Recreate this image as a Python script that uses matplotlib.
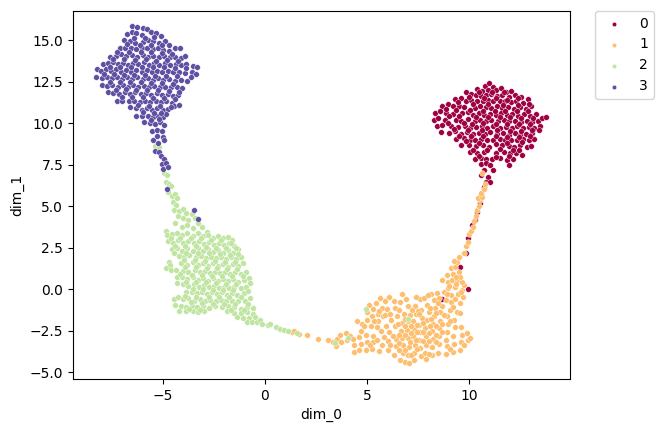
import matplotlib
matplotlib.use("Agg")
import matplotlib.pyplot as plt
import numpy as np

# points, one list per cluster (dim_0, dim_1)
cluster_0 = [
    (10.8,12.25),(11.0,12.4),(11.2,12.2),(10.4,12.05),(10.65,11.95),(10.95,12.0),(11.3,12.0),(11.55,12.1),(11.8,11.9),(12.05,11.95),
    (9.85,11.9),(10.1,11.75),(10.35,11.7),(10.6,11.65),(10.85,11.7),(11.1,11.75),(11.35,11.65),(11.6,11.7),(11.95,11.55),(12.25,11.7),(12.55,11.55),
    (9.3,11.45),(9.6,11.5),(9.85,11.35),(10.1,11.4),(10.4,11.3),(10.7,11.35),(10.95,11.4),(11.2,11.3),(11.5,11.35),(11.75,11.3),(12.05,11.25),(12.3,11.35),(12.65,11.2),(12.9,11.45),
    (8.7,11.05),(8.95,11.15),(9.2,11.0),(9.5,11.05),(9.75,10.95),(10.3,10.9),(10.55,11.0),(10.85,10.95),(11.1,10.9),(11.35,11.0),(11.6,10.9),(11.9,10.95),(12.2,10.85),(12.5,10.95),(12.8,10.85),(13.05,11.0),
    (8.35,10.6),(8.6,10.7),(8.85,10.6),(9.2,10.55),(9.65,10.6),(9.95,10.65),(10.2,10.5),(10.5,10.6),(10.75,10.5),(11.05,10.55),(11.3,10.5),(11.55,10.6),(11.85,10.5),(12.1,10.55),(12.4,10.45),(12.7,10.55),(13.0,10.45),(13.3,10.55),
    (8.3,10.2),(8.5,10.3),(8.8,10.2),(9.35,10.2),(9.6,10.15),(9.95,10.25),(10.3,10.1),(10.55,10.2),(10.85,10.15),(11.1,10.2),(11.4,10.1),(11.7,10.2),(11.95,10.1),(12.25,10.15),(12.55,10.05),(12.85,10.15),(13.1,10.05),(13.4,10.1),(13.6,10.3),(13.75,10.35),
    (8.45,9.8),(8.7,9.9),(9.1,9.85),(9.45,9.75),(9.8,9.8),(10.05,9.7),(10.35,9.75),(10.65,9.8),(10.9,9.7),(11.2,9.8),(11.5,9.7),(11.8,9.75),(12.1,9.7),(12.35,9.8),(12.65,9.7),(12.95,9.75),(13.2,9.7),(13.5,9.85),(13.45,9.6),
    (8.65,9.45),(9.0,9.4),(9.3,9.5),(9.6,9.35),(9.9,9.45),(10.2,9.35),(10.5,9.4),(10.8,9.35),(11.05,9.45),(11.35,9.35),(11.65,9.4),(11.95,9.3),(12.25,9.4),(12.5,9.3),(12.8,9.35),(13.1,9.4),
    (9.35,9.05),(9.75,9.1),(10.05,9.0),(10.3,8.95),(10.6,9.05),(10.9,9.0),(11.2,8.95),(11.5,9.05),(11.75,8.95),(12.05,9.0),(12.35,8.95),(12.65,9.05),(12.95,8.95),(13.2,9.05),
    (9.6,8.7),(10.0,8.65),(10.35,8.6),(10.7,8.65),(11.0,8.55),(11.6,8.65),(11.95,8.6),(12.2,8.55),(12.5,8.65),(12.85,8.55),(13.05,8.6),
    (10.05,8.25),(10.4,8.2),(10.75,8.25),(11.3,8.2),(11.7,8.25),(12.0,8.2),(12.3,8.2),(12.6,8.1),
    (10.3,7.85),(10.6,7.9),(10.85,7.85),(11.15,7.85),(11.5,7.9),(11.85,7.75),(12.15,7.85),
    (10.6,7.55),(10.85,7.6),(11.05,7.45),(11.95,7.45),(10.75,7.2),(11.2,7.15),(10.6,6.85),(10.95,6.75),(10.85,6.45),(11.05,6.45),(10.75,6.15),
    (10.6,5.65),(10.55,5.2),(10.4,4.65),(10.3,4.15),(10.15,3.85),(9.95,3.1),(9.85,2.2),(9.55,1.35),(9.95,0.0),(8.7,-0.6),
    # in-between points of the dense part
    (10.5,11.85),(11.15,11.9),(11.7,11.85),(10.0,11.55),(10.75,11.5),(11.3,11.5),(11.85,11.4),(12.4,11.5),(9.45,11.25),(10.2,11.15),(10.95,11.15),(11.65,11.1),(12.4,11.1),(12.95,11.15),
    (8.85,10.85),(9.35,10.8),(10.05,10.8),(10.7,10.75),(11.25,10.75),(11.75,10.7),(12.35,10.7),(12.9,10.7),(9.0,10.4),(9.5,10.4),(10.35,10.35),(10.95,10.35),(11.5,10.35),(12.0,10.35),(12.55,10.3),(13.15,10.3),
    (8.95,10.0),(9.75,10.0),(10.15,9.95),(10.7,10.0),(11.3,9.95),(11.85,9.95),(12.45,9.95),(13.0,9.95),(9.25,9.65),(9.95,9.6),(10.65,9.6),(11.35,9.6),(12.0,9.55),(12.55,9.55),(13.1,9.6),
    (9.5,9.2),(10.1,9.2),(10.7,9.2),(11.3,9.2),(11.85,9.15),(12.45,9.15),(13.0,9.2),(9.85,8.9),(10.5,8.8),(11.3,8.75),(11.85,8.8),(12.6,8.85),(10.2,8.4),(10.9,8.4),(11.5,8.45),(12.15,8.4),(12.45,8.4),(10.5,8.0),(11.3,7.95),(11.95,8.0),
]
cluster_1 = [
    (1.3,-2.6),(1.67,-2.7),(2.05,-2.77),(2.6,-3.0),(3.1,-3.1),(3.35,-3.2),(3.55,-3.0),(3.7,-2.75),(3.95,-2.65),(4.15,-2.85),(3.75,-3.2),(3.5,-3.45),(4.0,-3.1),
    (4.3,-3.0),(4.35,-3.4),(4.35,-3.8),(4.6,-3.7),(4.7,-3.3),(4.6,-2.9),(4.7,-2.55),(4.95,-2.75),(5.0,-3.2),(4.95,-3.65),(5.25,-3.6),(5.3,-3.2),(5.3,-2.8),
    (4.5,-1.9),(4.75,-2.1),(5.0,-1.85),(5.2,-2.2),(5.5,-2.3),(5.55,-1.9),(5.25,-1.65),(5.0,-1.4),(5.3,-1.2),(5.55,-1.5),(5.8,-1.65),(5.75,-1.15),(5.45,-0.85),(5.65,-0.55),(5.9,-0.75),(6.0,-1.2),(6.1,-0.5),
    (5.6,-3.75),(5.75,-3.35),(5.85,-2.9),(5.7,-2.55),(6.1,-2.6),(6.05,-3.15),(6.05,-3.7),(6.3,-3.95),(6.4,-3.45),(6.4,-3.0),(6.35,-2.25),(6.2,-1.85),(6.45,-1.6),(6.35,-1.15),(6.6,-0.8),(6.7,-0.3),(6.9,-0.6),
    (6.6,-4.3),(6.85,-4.4),(7.05,-4.45),(7.3,-4.3),(6.75,-3.85),(7.0,-3.95),(6.75,-3.4),(7.05,-3.5),(6.7,-2.95),(7.0,-2.95),(6.65,-2.5),(6.95,-2.45),(6.7,-2.05),(7.0,-1.95),(6.8,-1.5),(7.1,-1.55),(7.0,-1.05),
    (7.3,-3.85),(7.35,-3.35),(7.25,-2.85),(7.3,-2.4),(7.25,-1.95),(7.4,-1.5),(7.35,-1.0),(7.6,-0.6),(7.4,-0.5),(7.8,-0.55),
    (7.65,-4.05),(7.6,-3.55),(7.55,-3.05),(7.6,-2.6),(7.55,-2.15),(7.7,-1.75),(7.65,-1.25),(7.95,-0.95),(8.05,-1.4),(7.95,-1.85),(7.85,-2.35),(7.9,-2.85),(7.9,-3.35),(7.85,-3.85),(7.9,-4.2),
    (8.2,-4.0),(8.2,-3.5),(8.25,-3.0),(8.2,-2.55),(8.25,-2.1),(8.3,-1.65),(8.35,-1.15),(8.3,-0.65),(8.15,-0.3),(8.45,-0.25),(8.55,-0.55),
    (8.5,-3.85),(8.55,-3.3),(8.55,-2.8),(8.55,-2.35),(8.6,-1.9),(8.6,-1.4),(8.7,-1.0),(8.85,-0.65),(8.75,-0.2),(8.95,0.05),
    (8.85,-3.9),(8.9,-3.45),(8.85,-3.05),(8.9,-2.6),(8.95,-2.1),(8.9,-1.65),(9.05,-1.25),(9.1,-0.8),(9.3,-0.6),(9.1,-0.35),(9.45,-0.3),(9.3,0.1),
    (9.2,-3.8),(9.25,-3.3),(9.2,-2.85),(9.3,-2.3),(9.25,-1.85),(9.4,-1.4),(9.55,-1.45),(9.55,-0.85),(9.7,-0.5),(9.65,-0.05),(9.75,0.25),
    (9.55,-3.7),(9.6,-3.2),(9.65,-2.75),(9.75,-3.35),(9.95,-3.1),(10.05,-2.95),(9.9,-2.65),(9.6,-2.3),
    (8.7,0.55),(8.95,0.45),(9.15,0.55),(9.4,0.5),(9.65,0.45),(8.9,0.85),(9.2,0.9),(9.5,1.0),(9.55,0.75),(9.1,1.25),(9.3,1.35),(9.4,1.6),(9.5,1.95),(9.25,1.7),(9.75,2.2),
    (9.85,2.6),(9.95,2.85),(10.0,3.3),(10.1,3.5),(10.2,3.75),(10.25,4.1),(10.35,4.4),(10.4,4.75),(10.5,5.0),(10.55,5.35),(10.45,5.5),(10.65,5.55),(10.6,5.8),(10.75,6.0),(10.8,6.35),(10.65,7.0),
    (5.1,-0.95),(7.15,-2.2),(7.5,-1.3),(8.0,-0.35),(6.55,-3.7),(5.5,-3.1),(1.4,-2.55),
    # in-between points of the dense part
    (5.95,-2.25),(5.9,-1.55),(6.15,-1.5),(6.55,-1.25),(6.25,-2.85),(6.55,-2.75),(6.5,-2.1),(6.85,-2.75),(6.85,-2.25),(6.85,-1.8),(7.15,-2.65),(7.1,-3.2),(6.85,-3.65),(6.55,-3.25),
    (7.4,-3.1),(7.45,-2.6),(7.45,-2.15),(7.55,-1.5),(7.75,-2.05),(7.75,-2.6),(7.75,-3.15),(7.45,-3.6),(8.05,-3.15),(8.05,-2.65),(8.1,-2.2),(8.15,-1.8),(8.1,-1.15),(8.4,-1.45),
    (8.4,-2.75),(8.4,-2.25),(8.4,-3.2),(8.7,-2.6),(8.7,-2.1),(8.75,-1.55),(7.2,-1.25),(6.3,-0.75),(6.15,-3.35),(7.15,-4.0),(8.05,-3.9),(9.05,-3.6),(9.05,-1.9),(9.2,-1.1),(8.5,-0.85),(8.9,-0.3),
    (4.85,-2.25),(5.35,-1.95),(5.15,-3.4),(5.6,-1.3),(9.35,0.3),(9.35,0.75),(9.0,0.2),(9.6,-0.2),
]
cluster_2 = [
    (-5.4,8.6),(-5.2,8.55),(-4.95,7.0),(-4.8,6.9),(-4.85,6.45),(-4.7,6.35),(-4.6,6.2),(-4.75,5.85),(-4.55,5.6),(-4.4,5.75),(-4.3,5.5),(-4.5,5.25),(-4.35,5.05),(-4.45,4.75),(-4.2,4.7),(-4.0,4.85),(-3.85,4.6),(-3.6,4.5),(-4.25,4.4),(-4.0,4.3),(-3.75,4.15),
    (-3.45,4.25),(-4.4,3.95),(-4.05,3.75),(-3.8,3.85),(-3.55,3.65),(-3.3,3.95),(-3.1,3.75),(-2.85,3.45),
    (-4.85,3.5),(-4.8,3.25),(-4.55,3.3),(-4.3,3.35),(-4.05,3.25),(-3.8,3.35),(-3.55,3.2),(-3.3,3.35),(-3.05,3.2),(-2.8,3.25),(-2.55,3.05),(-2.3,3.2),(-2.05,3.05),(-1.8,3.15),(-1.6,2.95),
    (-4.75,2.9),(-4.5,2.8),(-4.25,2.95),(-4.0,2.75),(-3.75,2.9),(-3.5,2.75),(-3.25,2.9),(-3.0,2.7),(-2.75,2.85),(-2.5,2.65),(-2.25,2.8),(-2.0,2.65),(-1.75,2.75),(-1.5,2.6),
    (-4.55,2.4),(-4.3,2.5),(-4.05,2.3),(-3.8,2.45),(-3.55,2.3),(-3.3,2.45),(-3.05,2.3),(-2.8,2.4),(-2.55,2.25),(-2.3,2.35),(-2.05,2.2),(-1.8,2.35),(-1.55,2.2),(-1.3,2.4),
    (-4.2,2.0),(-3.95,1.95),(-3.7,2.05),(-3.4,1.9),(-3.15,2.0),(-2.9,1.85),(-2.65,1.95),(-2.4,1.85),(-2.15,1.95),(-1.9,1.8),(-1.65,1.9),(-1.4,1.8),(-1.2,1.95),
    (-4.7,1.6),(-4.65,1.45),(-4.1,1.55),(-3.8,1.45),(-3.55,1.6),(-3.3,1.45),(-3.05,1.55),(-2.8,1.4),(-2.55,1.55),(-2.3,1.4),(-2.05,1.5),(-1.8,1.35),(-1.55,1.5),(-1.3,1.4),(-1.1,1.55),
    (-4.85,1.25),(-4.6,1.15),(-4.35,1.15),(-4.0,1.1),(-3.75,1.0),(-3.45,1.15),(-3.2,1.0),(-2.95,1.1),(-2.7,0.95),(-2.45,1.05),(-2.2,0.95),(-1.95,1.05),(-1.7,0.9),(-1.45,1.0),(-1.2,0.9),(-0.95,1.0),
    (-4.3,0.7),(-4.05,0.7),(-3.8,0.6),(-3.55,0.7),(-3.3,0.55),(-3.05,0.65),(-2.8,0.5),(-2.55,0.65),(-2.3,0.5),(-2.05,0.6),(-1.8,0.5),(-1.55,0.6),(-1.3,0.45),(-1.05,0.55),(-0.8,0.65),
    (-4.3,0.35),(-4.0,0.3),(-3.75,0.2),(-3.5,0.3),(-3.25,0.15),(-3.0,0.25),(-2.75,0.1),(-2.5,0.2),(-2.25,0.05),(-2.0,0.15),(-1.75,0.05),(-1.5,0.15),(-1.2,0.05),(-0.95,0.15),(-0.75,0.35),
    (-3.85,-0.15),(-3.6,-0.15),(-3.35,-0.25),(-3.1,-0.15),(-2.85,-0.3),(-2.6,-0.2),(-2.35,-0.3),(-2.1,-0.2),(-1.85,-0.35),(-1.6,-0.25),(-1.35,-0.35),(-1.05,-0.25),(-0.85,-0.1),
    (-4.45,-0.6),(-4.25,-0.5),(-4.0,-0.6),(-3.75,-0.55),(-3.5,-0.7),(-3.2,-0.6),(-2.95,-0.75),(-2.7,-0.65),(-2.4,-0.75),(-2.15,-0.65),(-1.9,-0.75),(-1.6,-0.7),(-1.3,-0.75),(-1.0,-0.7),(-0.75,-0.55),
    (-4.4,-0.95),(-4.1,-1.0),(-3.85,-1.1),(-3.6,-1.0),(-3.35,-1.1),(-3.05,-1.05),(-2.75,-1.15),(-2.45,-1.0),(-2.1,-1.1),(-1.8,-1.05),(-1.5,-1.1),(-1.2,-1.2),(-0.9,-1.1),(-0.6,-1.15),
    (-4.2,-1.3),(-3.85,-1.35),(-3.55,-1.3),(-3.3,-1.4),(-3.0,-1.35),(-1.85,-1.35),(-1.5,-1.45),(-1.2,-1.45),(-0.9,-1.4),(-0.6,-1.5),(-1.35,-1.7),(-1.1,-1.75),(-0.8,-1.75),(-0.5,-1.7),(-0.9,-2.0),(-0.65,-2.0),(-0.4,-2.0),(-0.25,-1.85),(-0.15,-2.1),
    (0.15,-2.15),(0.25,-2.1),(0.55,-2.3),(0.75,-2.4),(0.95,-2.45),(1.15,-2.5),(1.55,-2.65),(3.45,-3.25),(4.05,-2.95),(4.95,-1.2),(7.0,-1.8),
    # in-between points of the dense part
    (-4.6,3.05),(-4.15,3.1),(-3.65,3.05),(-3.15,3.05),(-2.65,2.95),(-2.15,2.95),(-1.65,2.8),(-4.4,2.6),(-3.9,2.6),(-3.4,2.6),(-2.9,2.55),(-2.4,2.5),(-1.9,2.5),(-1.4,2.5),
    (-4.45,2.15),(-3.85,2.2),(-3.3,2.15),(-2.75,2.15),(-2.2,2.1),(-1.7,2.05),(-1.3,2.1),(-3.95,1.75),(-3.45,1.75),(-2.95,1.7),(-2.45,1.7),(-1.95,1.65),(-1.45,1.65),
    (-3.9,1.3),(-3.4,1.3),(-2.85,1.25),(-2.35,1.25),(-1.85,1.2),(-1.35,1.2),(-4.15,0.9),(-3.6,0.85),(-3.1,0.85),(-2.6,0.8),(-2.1,0.8),(-1.6,0.8),(-1.1,0.8),
    (-3.85,0.45),(-3.4,0.45),(-2.9,0.4),(-2.4,0.35),(-1.9,0.3),(-1.4,0.3),(-3.55,0.0),(-3.05,0.0),(-2.55,-0.05),(-2.05,-0.05),(-1.55,-0.05),(-3.9,-0.4),(-3.4,-0.45),(-2.75,-0.45),(-2.25,-0.5),(-1.75,-0.5),(-1.2,-0.5),
    (-3.65,-0.8),(-3.1,-0.85),(-2.55,-0.9),(-2.0,-0.9),(-1.45,-0.9),(-0.85,-0.9),(-3.7,-1.2),(-3.2,-1.25),(-1.65,-1.25),(-1.05,-1.25),
]
cluster_3 = [
    (-6.5,15.85),(-6.25,15.8),(-6.0,15.75),(-5.8,15.65),(-6.75,15.35),(-6.5,15.5),(-6.3,15.4),(-6.05,15.3),(-5.6,15.5),(-5.35,15.4),(-5.1,15.25),
    (-6.9,15.0),(-6.6,14.95),(-6.35,14.85),(-6.0,14.9),(-5.75,15.0),(-5.5,14.95),(-5.2,14.85),(-4.9,14.95),(-4.7,14.7),
    (-7.1,14.55),(-6.85,14.5),(-6.55,14.55),(-6.3,14.45),(-6.05,14.5),(-5.8,14.55),(-5.5,14.45),(-5.25,14.5),(-5.0,14.4),(-4.7,14.35),(-4.4,14.5),(-4.15,14.55),
    (-7.6,14.0),(-7.3,14.05),(-7.05,14.15),(-6.8,14.05),(-6.5,14.1),(-6.25,14.0),(-6.0,14.1),(-5.75,14.0),(-5.5,14.05),(-5.2,13.95),(-4.95,14.05),(-4.65,13.95),(-4.4,14.0),(-4.1,13.9),(-3.9,14.05),
    (-7.95,13.55),(-7.7,13.6),(-7.45,13.65),(-7.2,13.55),(-6.95,13.6),(-6.7,13.5),(-6.45,13.6),(-6.2,13.55),(-5.95,13.65),(-5.7,13.5),(-5.45,13.6),(-5.2,13.5),(-4.9,13.6),(-4.65,13.5),(-4.35,13.55),(-4.1,13.5),(-3.85,13.55),(-3.55,13.45),(-3.35,13.4),
    (-8.25,13.25),(-8.05,13.15),(-7.8,13.25),(-7.55,13.15),(-7.3,13.25),(-7.05,13.1),(-6.8,13.2),(-6.55,13.1),(-6.3,13.2),(-6.05,13.1),(-5.8,13.2),(-5.55,13.1),(-5.3,13.15),(-5.05,13.05),(-4.75,13.15),(-4.5,13.05),(-4.2,13.1),(-3.9,13.0),(-3.6,13.1),(-3.4,12.95),
    (-8.3,12.75),(-8.0,12.7),(-7.75,12.8),(-7.5,12.7),(-7.25,12.75),(-7.0,12.65),(-6.75,12.75),(-6.5,12.65),(-6.25,12.75),(-6.0,12.65),(-5.75,12.7),(-5.5,12.6),(-5.25,12.7),(-5.0,12.6),(-4.7,12.65),(-4.4,12.55),(-4.1,12.6),(-3.8,12.55),
    (-8.0,12.3),(-7.75,12.25),(-7.5,12.3),(-7.2,12.2),(-6.95,12.3),(-6.7,12.2),(-6.45,12.3),(-6.2,12.2),(-5.95,12.25),(-5.7,12.15),(-5.45,12.25),(-5.15,12.15),(-4.9,12.2),(-4.6,12.15),(-4.3,12.2),(-4.05,12.1),
    (-7.7,11.85),(-7.45,11.8),(-7.15,11.75),(-6.85,11.85),(-6.6,11.75),(-6.35,11.85),(-6.1,11.75),(-5.85,11.8),(-5.6,11.7),(-5.3,11.8),(-5.05,11.7),(-4.75,11.75),(-4.5,11.65),(-4.25,11.7),
    (-7.25,11.3),(-7.0,11.35),(-6.65,11.3),(-6.4,11.35),(-6.15,11.25),(-5.9,11.35),(-5.65,11.25),(-5.35,11.35),(-5.1,11.25),(-4.85,11.3),(-4.55,11.2),
    (-6.6,10.95),(-6.3,10.9),(-6.05,10.8),(-5.8,10.9),(-5.55,10.8),(-5.3,10.9),(-5.0,10.8),(-4.75,10.85),(-4.45,11.0),(-4.2,11.1),
    (-6.3,10.45),(-6.05,10.4),(-5.75,10.45),(-5.5,10.35),(-5.25,10.45),(-5.0,10.35),(-4.85,10.55),
    (-5.95,10.05),(-5.65,10.0),(-5.4,9.95),(-5.15,10.05),(-4.95,9.9),(-5.55,9.55),(-5.3,9.6),(-5.05,9.5),(-5.3,9.2),(-5.0,9.15),(-5.5,8.95),(-5.25,8.8),(-4.95,8.95),
    (-5.4,8.3),(-5.2,8.25),(-5.1,8.0),(-4.95,7.85),(-5.05,7.55),(-4.85,7.6),(-5.0,7.25),(-4.75,7.35),(-4.8,6.0),(-3.5,4.75),(-3.3,4.2),
    # in-between points of the dense part
    (-6.4,15.15),(-5.9,15.15),(-5.45,15.2),(-6.75,14.75),(-6.15,14.7),(-5.6,14.7),(-5.05,14.7),(-7.25,14.3),(-6.65,14.3),(-6.1,14.3),(-5.6,14.25),(-5.05,14.2),(-4.55,14.15),
    (-7.45,13.85),(-6.9,13.85),(-6.35,13.8),(-5.85,13.85),(-5.35,13.75),(-4.8,13.8),(-4.25,13.75),(-7.6,13.4),(-7.1,13.35),(-6.55,13.35),(-6.05,13.4),(-5.5,13.35),(-4.95,13.35),(-4.4,13.3),(-3.85,13.3),
    (-7.9,12.95),(-7.4,12.95),(-6.9,12.9),(-6.4,12.9),(-5.9,12.9),(-5.4,12.85),(-4.85,12.85),(-4.3,12.85),(-3.65,12.8),(-7.6,12.5),(-7.1,12.5),(-6.6,12.45),(-6.1,12.45),(-5.6,12.4),(-5.05,12.4),(-4.5,12.35),
    (-7.3,12.0),(-6.8,12.05),(-6.3,12.0),(-5.8,12.0),(-5.25,12.0),(-4.7,11.95),(-4.2,11.9),(-7.0,11.55),(-6.5,11.55),(-6.0,11.55),(-5.5,11.5),(-4.95,11.5),(-4.4,11.45),(-6.2,11.1),(-5.7,11.05),(-5.15,11.05),(-4.6,10.95),
    (-6.0,10.65),(-5.45,10.6),(-5.1,10.6),(-5.6,10.2),(-5.2,10.25),
]
labels = ["0", "1", "2", "3"]
colors = ["#9e0142", "#fdbe6e", "#bfe5a0", "#5e4fa2"]
clusters = [cluster_0, cluster_1, cluster_2, cluster_3]

fig = plt.figure(figsize=(6.62, 4.33), dpi=100)
ax = fig.add_axes([73 / 662, 1 - 379 / 433, 497 / 662, 368 / 433])

for pts, lab, col in zip(clusters, labels, colors):
    pts = np.array(pts)
    ax.scatter(pts[:, 0], pts[:, 1], s=17, color=col, edgecolor="white", linewidth=0.3, label=lab)

ax.set_xlim(-9.41, 14.95)
ax.set_ylim(-5.42, 16.75)
ax.set_xlabel("dim_0")
ax.set_ylabel("dim_1")
ax.set_xticks([-5, 0, 5, 10])
ax.legend(bbox_to_anchor=(1.05, 1), loc=2, borderaxespad=0.0, markerscale=0.77)

plt.savefig("out.png", dpi=100)
